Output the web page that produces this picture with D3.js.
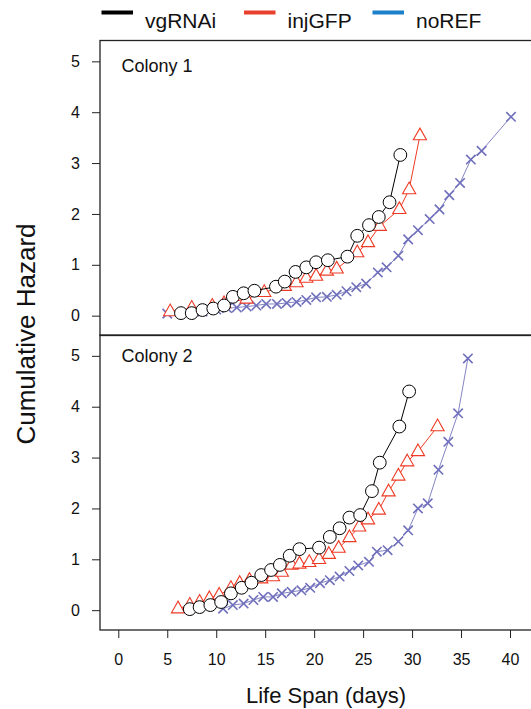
<!DOCTYPE html>
<html>
<head>
<meta charset="utf-8">
<script src="https://cdn.jsdelivr.net/npm/d3@7"></script>
<style>
  body { margin: 0; background: #fff; }
  svg { display: block; font-family: "Liberation Sans", Arial, Helvetica, sans-serif; }
</style>
</head>
<body>
<div id="chart"></div>
<script>
// cumulative hazard per colony
var groups = ["vgRNAi", "injGFP", "noREF"];
var legendColors = ["#000000", "#e8402c", "#1b7fc9"];
var panelNames = ["Colony 1", "Colony 2"];
var xTicks = [0, 5, 10, 15, 20, 25, 30, 35, 40];
var yTicks = [0, 1, 2, 3, 4, 5];

var vgDays1 = [6.4, 7.5, 8.6, 9.7, 10.8, 11.7, 12.8, 13.9, 16.1, 17.0, 18.1, 19.2, 20.2, 21.4, 23.4, 24.4, 25.6, 26.6, 27.7, 28.8];
var vgHaz1  = [0.05, 0.05, 0.11, 0.14, 0.20, 0.37, 0.44, 0.49, 0.57, 0.67, 0.86, 0.95, 1.05, 1.09, 1.16, 1.57, 1.78, 1.94, 2.23, 3.16];
var gfpDays1 = [5.3, 7.5, 9.6, 10.8, 13.1, 14.9, 17.0, 18.2, 19.2, 20.2, 21.3, 22.3, 24.4, 25.5, 26.7, 28.7, 29.7, 30.8];
var gfpHaz1  = [0.08, 0.15, 0.19, 0.24, 0.33, 0.46, 0.58, 0.65, 0.74, 0.78, 0.88, 0.92, 1.24, 1.44, 1.76, 2.09, 2.48, 3.54];
var refDays1 = [5.0, 8.6, 10.0, 11.1, 12.1, 13.1, 14.1, 15.1, 16.2, 17.2, 18.2, 19.2, 20.2, 21.3, 22.3, 23.3, 24.3, 25.3, 26.5, 27.4, 28.6, 29.6, 30.6, 31.8, 32.8, 33.8, 34.9, 36.0, 37.1, 40.1];
var refHaz1  = [0.04, 0.08, 0.12, 0.15, 0.16, 0.18, 0.20, 0.23, 0.23, 0.25, 0.27, 0.31, 0.36, 0.37, 0.41, 0.48, 0.56, 0.63, 0.85, 0.95, 1.18, 1.50, 1.68, 1.90, 2.09, 2.37, 2.61, 3.07, 3.24, 3.91];

var vgDays2 = [7.3, 8.3, 9.4, 10.5, 11.5, 12.6, 13.6, 14.6, 15.6, 16.5, 17.5, 18.5, 20.5, 21.6, 22.6, 23.6, 24.7, 25.9, 26.7, 28.7, 29.7];
var vgHaz2  = [0.02, 0.06, 0.10, 0.16, 0.33, 0.44, 0.54, 0.69, 0.79, 0.89, 1.07, 1.20, 1.23, 1.44, 1.61, 1.82, 1.87, 2.34, 2.90, 3.61, 4.30];
var gfpDays2 = [6.1, 7.3, 8.3, 9.3, 10.3, 11.5, 12.4, 13.4, 14.6, 15.8, 16.7, 17.7, 18.5, 19.5, 20.5, 21.5, 22.5, 23.6, 24.6, 25.5, 26.6, 27.6, 28.6, 29.5, 30.6, 32.6];
var gfpHaz2  = [0.03, 0.10, 0.16, 0.23, 0.30, 0.43, 0.53, 0.59, 0.62, 0.66, 0.75, 0.89, 0.91, 0.94, 1.00, 1.10, 1.22, 1.43, 1.64, 1.78, 1.97, 2.33, 2.64, 2.92, 3.12, 3.61];
var refDays2 = [10.7, 11.7, 12.8, 13.8, 14.8, 15.8, 16.7, 17.7, 18.7, 19.6, 20.6, 21.6, 22.6, 23.6, 24.5, 25.6, 26.4, 27.5, 28.6, 29.6, 30.6, 31.6, 32.7, 33.7, 34.7, 35.7];
var refHaz2  = [0.03, 0.10, 0.13, 0.20, 0.26, 0.26, 0.33, 0.36, 0.39, 0.44, 0.53, 0.59, 0.66, 0.77, 0.88, 0.95, 1.15, 1.18, 1.35, 1.57, 2.00, 2.10, 2.76, 3.31, 3.87, 4.95];

function zip(days, haz) {
  return days.map(function(d, i) { return {day: d, haz: haz[i]}; });
}

var panels = [
  {name: panelNames[0], vg: zip(vgDays1, vgHaz1), gfp: zip(gfpDays1, gfpHaz1), ref: zip(refDays1, refHaz1)},
  {name: panelNames[1], vg: zip(vgDays2, vgHaz2), gfp: zip(gfpDays2, gfpHaz2), ref: zip(refDays2, refHaz2)}
];

var width = 531, height = 709;
var left = 100, right = 560;
var panelTop = [40.5, 335], panelH = 295;

var svg = d3.select("#chart").append("svg")
  .attr("width", width)
  .attr("height", height);

var x = d3.scaleLinear().domain([0, 40]).range([118.3, 510]);

var refColor = "#6f6fbb";
var gfpColor = "#ee3a24";

panels.forEach(function(p, k) {
  var top = panelTop[k];
  var y = d3.scaleLinear().domain([-0.39, 5.41]).range([top + panelH, top]);
  var g = svg.append("g");

  var line = d3.line()
    .x(function(d) { return x(d.day); })
    .y(function(d) { return y(d.haz); });

  // noREF: crosses
  g.append("path").datum(p.ref)
    .attr("d", line)
    .attr("fill", "none")
    .attr("stroke", refColor)
    .attr("stroke-opacity", 0.85)
    .attr("stroke-width", 1);
  g.selectAll(".ref").data(p.ref).enter().append("path")
    .attr("class", "ref")
    .attr("transform", function(d) { return "translate(" + x(d.day) + "," + y(d.haz) + ")"; })
    .attr("d", "M-4.7,-4.7L4.7,4.7M-4.7,4.7L4.7,-4.7")
    .attr("stroke", refColor)
    .attr("stroke-width", 1.6);

  // injGFP: open triangles
  g.append("path").datum(p.gfp)
    .attr("d", line)
    .attr("fill", "none")
    .attr("stroke", gfpColor)
    .attr("stroke-width", 1);
  g.selectAll(".gfp").data(p.gfp).enter().append("path")
    .attr("class", "gfp")
    .attr("transform", function(d) { return "translate(" + x(d.day) + "," + y(d.haz) + ")"; })
    .attr("d", "M0,-7.5L6.6,4.2L-6.6,4.2Z")
    .attr("fill", "#fff")
    .attr("stroke", gfpColor)
    .attr("stroke-width", 1.1);

  // vgRNAi: open circles
  g.append("path").datum(p.vg)
    .attr("d", line)
    .attr("fill", "none")
    .attr("stroke", "#000")
    .attr("stroke-width", 1);
  g.selectAll(".vg").data(p.vg).enter().append("circle")
    .attr("class", "vg")
    .attr("cx", function(d) { return x(d.day); })
    .attr("cy", function(d) { return y(d.haz); })
    .attr("r", 6.4)
    .attr("fill", "#fff")
    .attr("stroke", "#000")
    .attr("stroke-width", 1);

  // frame + y axis
  g.append("rect")
    .attr("x", left).attr("y", top)
    .attr("width", right - left).attr("height", panelH)
    .attr("fill", "none")
    .attr("stroke", "#222")
    .attr("stroke-width", 1.3);

  var yAxis = g.append("g")
    .attr("transform", "translate(" + left + ",0)")
    .call(d3.axisLeft(y).tickValues(yTicks).tickFormat(d3.format("d"))
      .tickSize(8).tickSizeOuter(0).tickPadding(12));
  yAxis.select(".domain").remove();
  yAxis.selectAll("line").attr("stroke", "#222");
  yAxis.selectAll("text").attr("font-size", 16).attr("fill", "#111")
    .attr("font-family", "Liberation Sans, Arial, sans-serif");

  g.append("text")
    .attr("x", 121.5)
    .attr("y", k == 0 ? 72.3 : 361.5)
    .attr("font-size", 18)
    .attr("fill", "#111")
    .text(p.name);
});

var xAxis = svg.append("g")
  .attr("transform", "translate(0," + (panelTop[1] + panelH) + ")")
  .call(d3.axisBottom(x).tickValues(xTicks).tickFormat(d3.format("d"))
    .tickSize(8).tickSizeOuter(0).tickPadding(16));
xAxis.select(".domain").remove();
xAxis.selectAll("line").attr("stroke", "#222");
xAxis.selectAll("text").attr("font-size", 16).attr("fill", "#111")
  .attr("font-family", "Liberation Sans, Arial, sans-serif");

svg.append("text")
  .attr("x", 326)
  .attr("y", 703)
  .attr("text-anchor", "middle")
  .attr("font-size", 22)
  .attr("fill", "#111")
  .text("Life Span (days)");

svg.append("text")
  .attr("transform", "translate(35,334) rotate(-90)")
  .attr("text-anchor", "middle")
  .attr("font-size", 26)
  .attr("fill", "#111")
  .text("Cumulative Hazard");

// legend
var legendX = [101.5, 244, 372.5];
var legend = svg.selectAll(".legend").data(groups).enter().append("g")
  .attr("class", "legend")
  .attr("transform", function(d, i) { return "translate(" + legendX[i] + ",0)"; });
legend.append("rect")
  .attr("x", 0).attr("y", 10.5)
  .attr("width", 31.5).attr("height", 4)
  .attr("fill", function(d, i) { return legendColors[i]; });
legend.append("text")
  .attr("x", 43.5).attr("y", 27.5)
  .attr("font-size", 21)
  .attr("fill", "#111")
  .text(function(d) { return d; });
</script>
</body>
</html>
